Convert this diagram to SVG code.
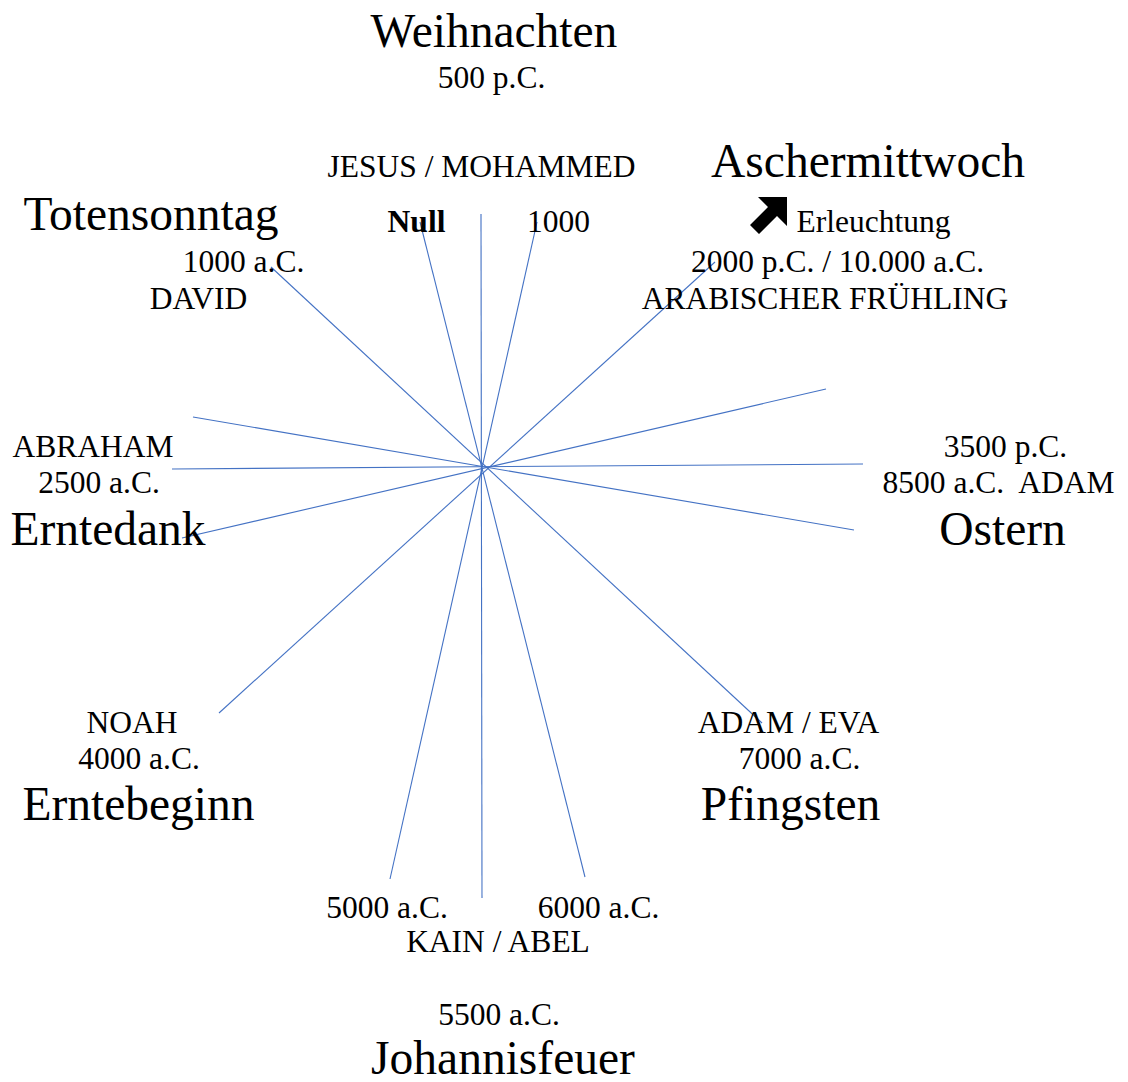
<svg xmlns="http://www.w3.org/2000/svg" width="1128" height="1082" viewBox="0 0 1128 1082">
<style>
text{font-family:"Liberation Serif","Times New Roman",serif;fill:#000;text-anchor:middle;white-space:pre}
.big{font-size:47.5px}
.sm{font-size:31.5px}
.b{font-weight:bold}
.ln line{stroke:#4472C4;stroke-width:1.1;fill:none}
</style>
<rect width="1128" height="1082" fill="#fff"/>
<g id="connectors" class="ln">
<line x1="481" y1="214" x2="482" y2="898"/>
<line x1="420" y1="222" x2="585" y2="877"/>
<line x1="537" y1="222" x2="390" y2="879"/>
<line x1="715" y1="262" x2="219" y2="713"/>
<line x1="826" y1="389" x2="182" y2="538"/>
<line x1="863" y1="464" x2="172" y2="469"/>
<line x1="854" y1="530" x2="193" y2="417"/>
<line x1="762" y1="723" x2="271" y2="267"/>
</g>
<g id="n-weihnachten"><text class="big" x="494" y="47">Weihnachten</text><text class="sm" x="491.5" y="88">500 p.C.</text></g>
<g id="n-jesus"><text class="sm" x="481.5" y="177">JESUS / MOHAMMED</text></g>
<g id="n-null"><text class="sm b" x="416.5" y="232">Null</text></g>
<g id="n-1000"><text class="sm" x="558.5" y="232">1000</text></g>
<g id="n-ascher"><text class="big" x="868" y="177">Aschermittwoch</text>
<polygon points="787,197 758,197 768,207 750,225 759,234 777,216 787,226" fill="#000"/>
<text class="sm" x="873.5" y="232">Erleuchtung</text>
<text class="sm" x="837.5" y="272">2000 p.C. / 10.000 a.C.</text>
<text class="sm" x="825" y="309">ARABISCHER FRÜHLING</text></g>
<g id="n-toten"><text class="big" x="151" y="230">Totensonntag</text><text class="sm" x="243.5" y="272">1000 a.C.</text><text class="sm" x="198.5" y="309">DAVID</text></g>
<g id="n-erntedank"><text class="sm" x="93" y="457">ABRAHAM</text><text class="sm" x="99" y="493">2500 a.C.</text><text class="big" x="108" y="545">Erntedank</text></g>
<g id="n-ostern"><text class="sm" x="1005.5" y="457">3500 p.C.</text><text class="sm" x="998.5" y="493">8500 a.C.  ADAM</text><text class="big" x="1002.5" y="545">Ostern</text></g>
<g id="n-erntebeginn"><text class="sm" x="132" y="733">NOAH</text><text class="sm" x="139" y="769">4000 a.C.</text><text class="big" x="138.5" y="820">Erntebeginn</text></g>
<g id="n-pfingsten"><text class="sm" x="788.5" y="733">ADAM / EVA</text><text class="sm" x="799.5" y="769">7000 a.C.</text><text class="big" x="790.5" y="820">Pfingsten</text></g>
<g id="n-5000"><text class="sm" x="387" y="918">5000 a.C.</text></g>
<g id="n-6000"><text class="sm" x="598.5" y="918">6000 a.C.</text></g>
<g id="n-johannis"><text class="sm" x="498" y="952">KAIN / ABEL</text><text class="sm" x="499" y="1025">5500 a.C.</text><text class="big" x="503" y="1074">Johannisfeuer</text></g>
</svg>
